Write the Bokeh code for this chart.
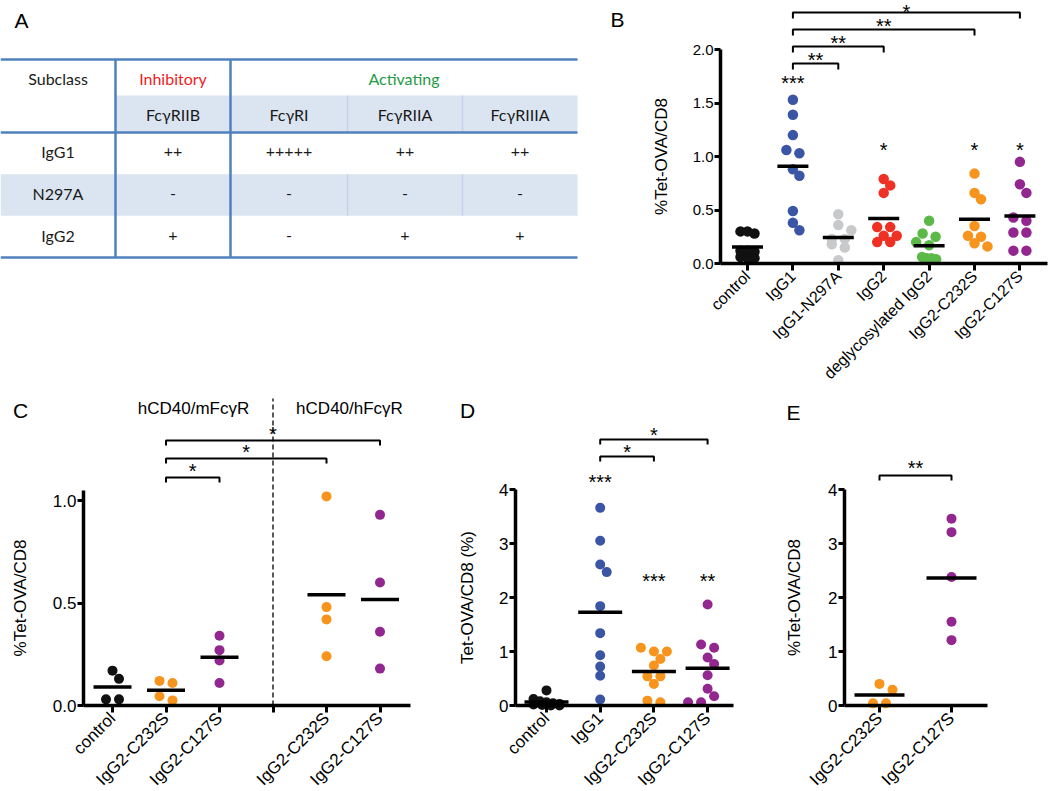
import numpy as np
from math import pi
from bokeh.plotting import figure
from bokeh.layouts import column, row
from bokeh.models import Range1d, FixedTicker, PrintfTickFormatter, Label
from bokeh.core.properties import value
from bokeh.embed import file_html
from bokeh.resources import INLINE

# ------------------------------------------------------------------ data
# A: binding of IgG variants to Fc-gamma receptors
a_subclasses = ["IgG1", "N297A", "IgG2"]
a_receptors = ["FcγRIIB", "FcγRI", "FcγRIIA", "FcγRIIIA"]
a_igg1 = ["++", "+++++", "++", "++"]
a_n297a = ["-", "-", "-", "-"]
a_igg2 = ["+", "-", "+", "+"]

# B
b_groups = ["control", "IgG1", "IgG1-N297A", "IgG2", "deglycosylated IgG2", "IgG2-C232S", "IgG2-C127S"]
b_control = [0.30, 0.30, 0.28, 0.12, 0.12, 0.11, 0.06, 0.05, 0.05]
b_igg1 = [1.53, 1.39, 1.20, 1.06, 1.03, 0.88, 0.82, 0.49, 0.38, 0.31]
b_igg1_n297a = [0.46, 0.36, 0.31, 0.23, 0.23, 0.18, 0.15, 0.03]
b_igg2 = [0.79, 0.73, 0.66, 0.34, 0.34, 0.26, 0.26, 0.20, 0.20]
b_degly_igg2 = [0.40, 0.28, 0.25, 0.20, 0.17, 0.06, 0.05, 0.05, 0.04]
b_igg2_c232s = [0.84, 0.66, 0.60, 0.35, 0.26, 0.25, 0.19, 0.16]
b_igg2_c127s = [0.95, 0.74, 0.66, 0.43, 0.40, 0.29, 0.29, 0.12, 0.12]
b_pairs = [(1, 2, "**"), (1, 3, "**"), (1, 5, "**"), (1, 6, "*")]
b_marks = [(1, "***"), (3, "*"), (5, "*"), (6, "*")]

# C
c_groups = ["control", "IgG2-C232S", "IgG2-C127S", "", "IgG2-C232S", "IgG2-C127S"]
c_headers = ["hCD40/mFcγR", "hCD40/hFcγR"]
c_control = [0.17, 0.13, 0.03, 0.03]
c_m_c232s = [0.12, 0.11, 0.045, 0.025]
c_m_c127s = [0.34, 0.27, 0.22, 0.11]
c_h_c232s = [1.02, 0.48, 0.42, 0.24]
c_h_c127s = [0.93, 0.60, 0.36, 0.18]
c_pairs = [(1, 2, "*"), (1, 4, "*"), (1, 5, "*")]

# D
d_groups = ["control", "IgG1", "IgG2-C232S", "IgG2-C127S"]
d_control = [0.28, 0.12, 0.08, 0.06, 0.04, 0.03, 0.02, 0.01, 0.0, 0.0]
d_igg1 = [3.66, 3.05, 2.61, 2.47, 1.84, 1.34, 0.93, 0.72, 0.55, 0.11]
d_igg2_c232s = [1.07, 1.00, 1.00, 0.86, 0.74, 0.54, 0.54, 0.40, 0.09, 0.06]
d_igg2_c127s = [1.87, 1.13, 1.07, 0.89, 0.77, 0.56, 0.31, 0.17, 0.06, 0.06]
d_pairs = [(1, 2, "*"), (1, 3, "*")]
d_marks = [(1, "***"), (2, "***"), (3, "**")]

# E
e_groups = ["IgG2-C232S", "IgG2-C127S"]
e_igg2_c232s = [0.40, 0.29, 0.04, 0.04]
e_igg2_c127s = [3.46, 3.21, 2.38, 1.55, 1.21]
e_pairs = [(0, 1, "**")]

# ------------------------------------------------------------------ styles
BLACK, BLUE, GREY, RED = "#111111", "#3b55a5", "#c8c9cb", "#ee3124"
GREEN, ORANGE, PURPLE = "#5ab947", "#f7941d", "#92278f"
FONT = "Liberation Sans"
TFONT = "Lato"
LINE_BLUE = "#4f81bd"
SHADE = "#dbe5f1"
STAR = 20


def swarm(vals, yppu, half_cap, step=13.0, thr=5.0, clash=9.0):
    """Deterministic column-scatter offsets (px) in the GraphPad style."""
    v = np.asarray(vals, float)
    order = sorted(range(len(v)), key=lambda k: -v[k])
    bins = []
    for k in order:
        if bins and (v[bins[-1][0]] - v[k]) * yppu <= thr:
            bins[-1].append(k)
        else:
            bins.append([k])
    offs = np.zeros(len(v))
    placed = []
    for b in bins:
        n = len(b)
        half = min((n - 1) * step / 2.0, half_cap)
        base = np.linspace(-half, half, n)
        chosen = base
        for shift in (0.0, step / 2, -step / 2, step, -step):
            cand = base + shift
            if all(np.hypot(cx - px, (v[k] - pv) * yppu) >= clash
                   for cx, k in zip(cand, b) for px, pv in placed):
                chosen = cand
                break
        for cx, k in zip(chosen, b):
            offs[k] = cx
            placed.append((cx, v[k]))
    return offs


class Panel:
    """A figure whose frame fills the whole canvas; axes are pinned inside it."""

    def __init__(self, fig_box, cat0, xppu, zero, yppu):
        fl, ft, fw, fh = fig_box
        self.top = ft
        self.cat0, self.xppu, self.zero, self.yppu = cat0, xppu, zero, yppu
        self.p = figure(width=fw, height=fh,
                        x_range=Range1d(self.X(fl), self.X(fl + fw)),
                        y_range=Range1d(self.Y(ft + fh), self.Y(ft)),
                        min_border=0, output_backend="svg", toolbar_location=None)
        p = self.p
        p.outline_line_color = None
        p.grid.visible = False
        p.background_fill_color = "white"
        p.border_fill_color = "white"

    def X(self, px):
        return (px - self.cat0) / self.xppu

    def Y(self, py):
        return (self.zero - py) / self.yppu

    def axes(self, groups, left_px, right_px, ylabel, yticks, yfmt, ytop,
             xsize, ysize, ystandoff):
        p = self.p
        p.xaxis.fixed_location = 0
        p.xaxis.bounds = (self.X(left_px), self.X(right_px))
        p.yaxis.fixed_location = self.X(left_px)
        p.yaxis.bounds = (0, ytop)
        p.xaxis.ticker = FixedTicker(ticks=list(range(len(groups))))
        p.xaxis.major_label_overrides = {i: g for i, g in enumerate(groups)}
        p.xaxis.major_label_orientation = pi / 4
        p.yaxis.ticker = FixedTicker(ticks=yticks)
        p.yaxis.formatter = PrintfTickFormatter(format=yfmt)
        for ax in p.axis:
            ax.axis_line_width = 3.5
            ax.axis_line_color = "black"
            ax.major_tick_line_width = 3
            ax.major_tick_line_color = "black"
            ax.major_tick_in = 0
            ax.minor_tick_line_color = None
            ax.major_label_text_color = "black"
            ax.major_label_text_font = FONT
        p.xaxis.major_tick_out = 7
        p.yaxis.major_tick_out = 6
        p.xaxis.major_label_standoff = 3
        p.yaxis.major_label_standoff = 1
        p.xaxis.major_label_text_font_size = f"{xsize}px"
        p.yaxis.major_label_text_font_size = f"{ysize}px"
        p.yaxis.axis_label = ylabel
        p.yaxis.axis_label_text_font = FONT
        p.yaxis.axis_label_text_font_size = "17px"
        p.yaxis.axis_label_text_font_style = "normal"
        p.yaxis.axis_label_text_color = "black"
        p.yaxis.axis_label_standoff = ystandoff

    def groups(self, values, colors, half_cap, mean_half_px, dot=10.0):
        p = self.p
        for i, (vals, col) in enumerate(zip(values, colors)):
            if vals is None:
                continue
            offs = swarm(vals, self.yppu, half_cap)
            p.scatter(x=list(i + offs / self.xppu), y=list(vals), size=dot,
                      fill_color=col, line_color=None)
        for i, vals in enumerate(values):
            if vals is None:
                continue
            m = float(np.mean(vals))
            hw = mean_half_px / self.xppu
            p.segment(x0=[i - hw], x1=[i + hw], y0=[m], y1=[m],
                      line_color="black", line_width=3.5)

    def text(self, x, y, s, size, color="black", font=FONT, baseline="middle"):
        self.p.add_layout(Label(x=x, y=y, text=s, text_font=font,
                                text_font_size=f"{size}px", text_color=color,
                                text_align="center", text_baseline=baseline))

    def star(self, x, center_py, s, size=STAR):
        if center_py - self.top < 0.6 * size:
            # too close to the canvas edge: hang the text from the top edge
            self.text(x, self.Y(self.top + 0.5), s, size, baseline="top")
        else:
            # calibrated: the asterisk glyph centre lands ~0.13 em above this anchor
            self.text(x, self.Y(center_py + 0.13 * size), s, size, baseline="alphabetic")

    def bracket(self, i, j, py, tick_px, s, gap_px):
        y = self.Y(py)
        y2 = self.Y(py + tick_px)
        self.p.multi_line(xs=[[i, i, j, j]], ys=[[y2, y, y, y2]],
                          line_color="black", line_width=2)
        self.star((i + j) / 2, py - gap_px, s)


# ------------------------------------------------------------------ panel A (table)
pa = figure(width=580, height=395, x_range=Range1d(0, 580), y_range=Range1d(395, 0),
            min_border=0, output_backend="svg", toolbar_location=None)
pa.axis.visible = False
pa.grid.visible = False
pa.outline_line_color = None

col_edges = [0, 115, 230, 347, 462, 577]
y_top, y_sub, y_head = 59, 95, 132
row_h = (257 - y_head) / 3.0
rows = [a_igg1, a_n297a, a_igg2]
row_edges = [y_head + k * row_h for k in range(4)]

pa.quad(left=[col_edges[1]], right=[col_edges[-1]], top=[y_sub], bottom=[y_head],
        fill_color=SHADE, line_color=None)
shade_rows = [k for k in range(len(rows)) if k % 2 == 1]
pa.quad(left=[col_edges[0]] * len(shade_rows), right=[col_edges[-1]] * len(shade_rows),
        top=[row_edges[k] for k in shade_rows], bottom=[row_edges[k + 1] for k in shade_rows],
        fill_color=SHADE, line_color=None)
sx0, sy0, sx1, sy1 = [], [], [], []
for xe in col_edges[3:5]:
    sx0.append(xe); sx1.append(xe); sy0.append(y_sub); sy1.append(y_head)
    for k in shade_rows:
        sx0.append(xe); sx1.append(xe); sy0.append(row_edges[k]); sy1.append(row_edges[k + 1])
pa.segment(x0=sx0, y0=sy0, x1=sx1, y1=sy1, line_color="#c5d3ea", line_width=1.5)
pa.segment(x0=[0, 0, 0], x1=[577, 577, 577], y0=[y_top, y_head, row_edges[-1]],
           y1=[y_top, y_head, row_edges[-1]], line_color=LINE_BLUE, line_width=2.5)
pa.segment(x0=[col_edges[1], col_edges[2]], x1=[col_edges[1], col_edges[2]],
           y0=[y_top, y_top], y1=[row_edges[-1], row_edges[-1]],
           line_color=LINE_BLUE, line_width=2.5)

centers = [(col_edges[k] + col_edges[k + 1]) / 2 for k in range(5)]
tx, ty, tt, tc = [], [], [], []
hy1 = (y_top + y_sub) / 2 + 0.5
hy2 = (y_sub + y_head) / 2
tx += [centers[0], centers[1], (col_edges[2] + col_edges[-1]) / 2]
ty += [hy1, hy1, hy1]
tt += ["Subclass", "Inhibitory", "Activating"]
tc += ["#1a1a1a", "#ee1c24", "#1f9a45"]
for k, rname in enumerate(a_receptors):
    tx.append(centers[k + 1]); ty.append(hy2); tt.append(rname); tc.append("#1a1a1a")
for r, (sub, vals) in enumerate(zip(a_subclasses, rows)):
    yc = (row_edges[r] + row_edges[r + 1]) / 2 - 1.5
    tx.append(centers[0]); ty.append(yc); tt.append(sub); tc.append("#1a1a1a")
    for k, v in enumerate(vals):
        tx.append(centers[k + 1]); ty.append(yc); tt.append(v); tc.append("#1a1a1a")
pa.text(x=tx, y=ty, text=tt, text_color=tc, text_font=value(TFONT),
        text_font_size="16px", text_align="center", text_baseline="middle")
pa.text(x=[21], y=[20], text=["A"], text_font=value(FONT), text_font_size="21px",
        text_align="center", text_baseline="middle", text_color="black")

# ------------------------------------------------------------------ panel B
B = Panel((580, 0, 470, 395), 747, 45.4, 263, 107)
B.axes(b_groups, 720, 1047, "%Tet-OVA/CD8", [0, 0.5, 1.0, 1.5, 2.0], "%.1f", 2.0, 16, 15, 19)
B.groups([b_control, b_igg1, b_igg1_n297a, b_igg2, b_degly_igg2, b_igg2_c232s, b_igg2_c127s],
         [BLACK, BLUE, GREY, RED, GREEN, ORANGE, PURPLE], 7, 15.5, dot=10.5)
for (i, j, s), py in zip(b_pairs, [63, 46, 29, 12]):
    B.bracket(i, j, py, 6, s, 6.5)
for (i, s), py in zip(b_marks, [80, 147, 147, 147]):
    B.star(i, py, s)
B.text(B.X(617), B.Y(19), "B", 21)

# ------------------------------------------------------------------ panel C
C = Panel((0, 395, 440, 396), 112, 53.5, 705, 205)
C.axes(c_groups, 83, 410, "%Tet-OVA/CD8", [0, 0.5, 1.0], "%.1f", 1.05, 17, 17, 20)
C.p.segment(x0=[3], x1=[3], y0=[0], y1=[C.Y(398)], line_color="black",
            line_width=1.3, line_dash="5 3")
C.groups([c_control, c_m_c232s, c_m_c127s, None, c_h_c232s, c_h_c127s],
         [BLACK, ORANGE, PURPLE, None, ORANGE, PURPLE], 7, 19)
for (i, j, s), py in zip(c_pairs, [477, 458, 440]):
    C.bracket(i, j, py, 5, s, 9)
C.text(C.X(193), C.Y(408), c_headers[0], 17)
C.text(C.X(349), C.Y(408), c_headers[1], 17)
C.text(C.X(20), C.Y(410), "C", 21)

# ------------------------------------------------------------------ panel D
D = Panel((440, 395, 300, 396), 546, 53.7, 705, 54)
D.axes(d_groups, 515, 733, "Tet-OVA/CD8 (%)", [0, 1, 2, 3, 4], "%d", 4, 17, 17, 19)
D.groups([d_control, d_igg1, d_igg2_c232s, d_igg2_c127s],
         [BLACK, BLUE, ORANGE, PURPLE], 13, 22)
for (i, j, s), py in zip(d_pairs, [456, 439]):
    D.bracket(i, j, py, 5, s, 7)
for (i, s), py in zip(d_marks, [479, 578, 578]):
    D.star(i, py, s)
D.text(D.X(467), D.Y(410), "D", 21)

# ------------------------------------------------------------------ panel E
E = Panel((740, 395, 310, 396), 879, 72, 705, 54)
E.axes(e_groups, 844, 987, "%Tet-OVA/CD8", [0, 1, 2, 3, 4], "%d", 4, 17, 17, 21)
E.groups([e_igg2_c232s, e_igg2_c127s], [ORANGE, PURPLE], 7, 25)
for (i, j, s), py in zip(e_pairs, [475]):
    E.bracket(i, j, py, 5, s, 10)
E.text(E.X(793), E.Y(412), "E", 21)

layout = column(row(pa, B.p), row(C.p, D.p, E.p))
open("out.html", "w").write(file_html(layout, INLINE))
